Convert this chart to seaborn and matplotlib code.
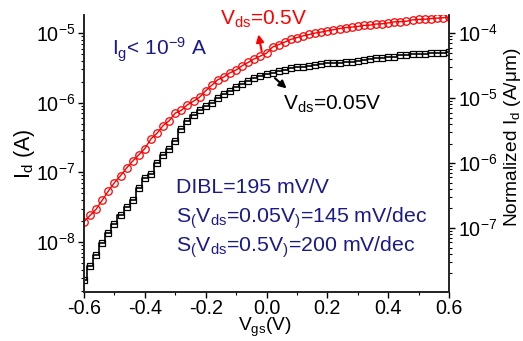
import numpy as np
import pandas as pd
import seaborn as sns
import matplotlib
matplotlib.use("Agg")
import matplotlib.pyplot as plt
from matplotlib.ticker import LogLocator, FixedLocator, NullFormatter, MultipleLocator

# Gate voltage sweep (V)
vgs = [round(-0.6 + 0.02 * i, 2) for i in range(61)]

# Drain current at Vds = 0.5 V (A)
id_05 = [1.95e-8, 2.40e-8, 2.95e-8, 3.98e-8, 5.37e-8, 7.08e-8, 8.91e-8, 1.15e-7,
         1.45e-7, 1.78e-7, 2.19e-7, 3.02e-7, 3.63e-7, 4.68e-7, 5.50e-7,
         7.08e-7, 7.76e-7, 9.33e-7, 1.05e-6, 1.20e-6, 1.48e-6, 1.78e-6, 2.14e-6,
         2.34e-6, 2.69e-6, 2.95e-6, 3.39e-6, 3.80e-6, 4.27e-6, 4.68e-6, 5.13e-6,
         6.31e-6, 6.84e-6, 7.41e-6, 8.13e-6, 8.61e-6, 9.12e-6, 9.55e-6, 1.00e-5,
         1.035e-5, 1.08e-5, 1.12e-5, 1.16e-5, 1.20e-5, 1.22e-5, 1.245e-5, 1.29e-5,
         1.30e-5, 1.35e-5, 1.36e-5, 1.40e-5, 1.45e-5, 1.46e-5, 1.48e-5, 1.55e-5,
         1.57e-5, 1.58e-5, 1.62e-5, 1.64e-5, 1.66e-5, 1.70e-5]

# Drain current at Vds = 0.05 V (A)
id_005 = [2.85e-9, 4.52e-9, 6.46e-9, 9.77e-9, 1.32e-8, 1.82e-8, 2.45e-8, 3.16e-8,
          3.98e-8, 5.96e-8, 8.32e-8, 9.55e-8, 1.35e-7, 1.78e-7, 2.16e-7, 2.82e-7,
          4.17e-7, 5.50e-7, 6.61e-7, 7.85e-7, 8.91e-7, 9.89e-7, 1.15e-6, 1.32e-6,
          1.48e-6, 1.66e-6, 1.86e-6, 2.04e-6, 2.24e-6, 2.40e-6, 2.57e-6,
          2.67e-6, 2.85e-6, 2.99e-6, 3.16e-6, 3.25e-6, 3.31e-6, 3.36e-6, 3.47e-6,
          3.65e-6, 3.72e-6, 3.78e-6, 3.78e-6, 3.84e-6, 3.89e-6, 3.98e-6, 4.17e-6,
          4.31e-6, 4.45e-6, 4.45e-6, 4.53e-6, 4.60e-6, 4.83e-6, 4.91e-6, 5.01e-6,
          5.01e-6, 5.08e-6, 5.16e-6, 5.16e-6, 5.25e-6, 5.33e-6]

x_ticks = [-0.6, -0.4, -0.2, 0.0, 0.2, 0.4, 0.6]
left_decades = [-8, -7, -6, -5]
right_decades = [-7, -6, -5, -4]

df = pd.DataFrame({"Vgs": vgs, "Id_05": id_05, "Id_005": id_005})

sns.set_theme(style="ticks")
plt.rcParams["font.family"] = ["Liberation Sans", "DejaVu Sans"]
plt.rcParams["mathtext.fontset"] = "custom"
plt.rcParams["mathtext.rm"] = "Liberation Sans"
plt.rcParams["mathtext.it"] = "Liberation Sans:italic"
plt.rcParams["mathtext.bf"] = "Liberation Sans:bold"
plt.rcParams["axes.unicode_minus"] = False

navy = "#1a1a8a"

fig = plt.figure(figsize=(5.23, 3.41), dpi=100)
ax = fig.add_axes([84 / 523, 1 - 292 / 341, 365 / 523, 277 / 341])

sns.lineplot(data=df, x="Vgs", y="Id_05", ax=ax, color="red", lw=1.0,
             marker="o", markersize=5.4, markerfacecolor="none",
             markeredgecolor="red", markeredgewidth=0.9)
sns.lineplot(data=df, x="Vgs", y="Id_005", ax=ax, color="black", lw=1.2,
             marker="s", markersize=5.0, markerfacecolor="none",
             markeredgecolor="black", markeredgewidth=0.9, drawstyle="steps-mid")

ax.set_yscale("log")
ax.set_xlim(-0.6, 0.6)
ax.set_ylim(10 ** -8.72, 10 ** -4.74)

ax.xaxis.set_major_locator(FixedLocator(x_ticks))
ax.xaxis.set_minor_locator(MultipleLocator(0.1))
ax.set_xticklabels([f"{v:.1f}" for v in x_ticks])
ax.yaxis.set_major_locator(FixedLocator([10.0 ** d for d in left_decades]))
ax.set_yticklabels([r"10$^{\mathrm{%d}}$" % d for d in left_decades])
ax.yaxis.set_minor_locator(LogLocator(base=10, subs=np.arange(2, 10), numticks=20))
ax.yaxis.set_minor_formatter(NullFormatter())

for sp in ["left", "bottom", "right"]:
    ax.spines[sp].set_linewidth(1.1)
    ax.spines[sp].set_color("black")
ax.spines["top"].set_visible(False)
ax.tick_params(which="major", direction="out", length=4.5, width=1.0,
               labelsize=14.2, colors="black", pad=2)
ax.tick_params(axis="x", which="major", pad=0.5)
ax.tick_params(which="minor", direction="out", length=2.5, width=0.8, colors="black")
ax.tick_params(axis="y", which="both", right=False)

ax.set_xlabel(r"V$_{\mathrm{gs}}$(V)", fontsize=13.8, color="black")
ax.xaxis.set_label_coords(0.496, -0.087)
ax.set_ylabel(r"I$_{\mathrm{d}}$ (A)", fontsize=15.5, color="black")
ax.yaxis.set_label_coords(-0.13, 0.5)

# Right axis: normalized current
ax2 = ax.twinx()
ax2.set_yscale("log")
ax2.set_ylim(10 ** -7.985, 10 ** -3.72)
ax2.yaxis.set_major_locator(FixedLocator([10.0 ** d for d in right_decades]))
ax2.set_yticklabels([r"10$^{\mathrm{%d}}$" % d for d in right_decades])
ax2.yaxis.set_minor_locator(LogLocator(base=10, subs=np.arange(2, 10), numticks=20))
ax2.yaxis.set_minor_formatter(NullFormatter())
ax2.spines["top"].set_visible(False)
ax2.spines["right"].set_linewidth(1.1)
ax2.tick_params(which="major", direction="out", length=4.5, width=1.0,
                labelsize=14.2, colors="black", pad=2)
ax2.tick_params(which="minor", direction="out", length=2.5, width=0.8, colors="black")
ax2.set_ylabel(r"Normalized I$_{\mathrm{d}}$ (A/$\mathrm{\mu}$m)", fontsize=13.8,
               color="black")
ax2.yaxis.set_label_coords(1.145, 0.56)

# Annotations
ax.text(0.373, 0.964, r"V$_{\mathrm{ds}}$=0.5V", transform=ax.transAxes,
        color="red", fontsize=15, va="baseline", ha="left")
ax.annotate("", xy=(0.478, 0.930), xytext=(0.487, 0.868),
            xycoords="axes fraction", textcoords="axes fraction",
            arrowprops=dict(arrowstyle="-|>", color="red", lw=1.5,
                            mutation_scale=11, shrinkA=0, shrinkB=0))
ax.text(0.545, 0.657, r"V$_{\mathrm{ds}}$=0.05V", transform=ax.transAxes,
        color="black", fontsize=15, va="baseline", ha="left")
ax.annotate("", xy=(0.555, 0.735), xytext=(0.523, 0.772),
            xycoords="axes fraction", textcoords="axes fraction",
            arrowprops=dict(arrowstyle="-|>", color="black", lw=1.5,
                            mutation_scale=11, shrinkA=0, shrinkB=0))

ax.text(0.077, 0.852, r"I$_{\mathrm{g}}$< 10$^{\mathrm{-9}}$ A", transform=ax.transAxes,
        color=navy, fontsize=15, va="baseline", ha="left")
ax.text(0.252, 0.357, "DIBL=195 mV/V", transform=ax.transAxes,
        color=navy, fontsize=15.3, va="baseline", ha="left")
ax.text(0.252, 0.249, r"S$_{\mathrm{(}}$V$_{\mathrm{ds}}$=0.05V$_{\mathrm{)}}$=145 mV/dec",
        transform=ax.transAxes, color=navy, fontsize=15.3, va="baseline", ha="left")
ax.text(0.252, 0.144, r"S$_{\mathrm{(}}$V$_{\mathrm{ds}}$=0.5V$_{\mathrm{)}}$=200 mV/dec",
        transform=ax.transAxes, color=navy, fontsize=15.3, va="baseline", ha="left")

fig.savefig("out.png", dpi=100)
